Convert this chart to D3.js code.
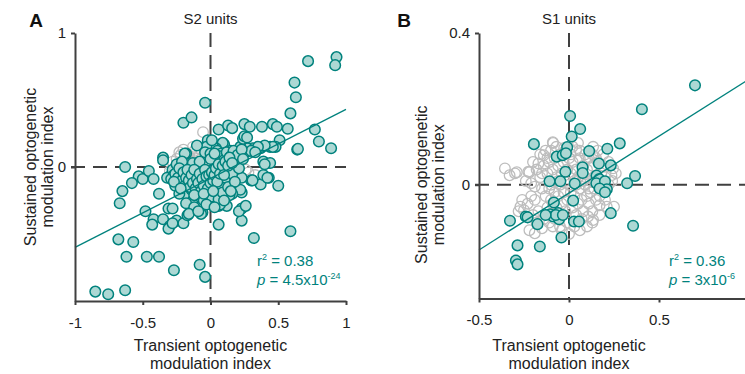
<!DOCTYPE html>
<html><head><meta charset="utf-8">
<script src="https://cdn.jsdelivr.net/npm/d3@7"></script>
<style>
html,body{margin:0;padding:0;background:#fff;}
svg{display:block;font-family:"Liberation Sans",Arial,sans-serif;}
</style></head>
<body>
<svg id="chart" width="745" height="374"></svg>
<script>
// ---------- DATA ----------
const panelLetters = ["A", "B"];
const panelTitles = ["S2 units", "S1 units"];
const xTitle = ["Transient optogenetic", "modulation index"];
const yTitle = ["Sustained optogenetic", "modulation index"];

const s2XDomain = [-1, 1];
const s2YDomain = [-1, 1];
const s2XTicks = [-1, -0.5, 0, 0.5, 1];
const s2YTicks = [0, 1];
const s2Fit = {slope: 0.515, intercept: -0.085};
const s2Stats = {r2: "0.38", pBase: "4.5x10", pExp: "-24"};

const s1XDomain = [-0.5, 1];
const s1YDomain = [-0.3, 0.4];
const s1XTicks = [-0.5, 0, 0.5];
const s1YTicks = [0, 0.4];
const s1Fit = {slope: 0.30, intercept: -0.022};
const s1Stats = {r2: "0.36", pBase: "3x10", pExp: "-6"};

// S2: unmodulated (grey open) units
const s2Unmodulated = [
 [-0.055,0.26],[-0.22,0.09],[-0.25,0.06],[-0.28,0.04],[-0.20,0.13],[-0.16,0.08],[-0.12,0.12],
 [-0.10,0.06],[-0.08,0.09],[-0.14,0.04],[-0.18,0.02],[-0.12,0.01],[-0.06,0.03],[-0.03,0.07],
 [-0.01,0.02],[0.02,0.05],[-0.09,-0.02],[-0.15,-0.04],[-0.21,-0.01],[-0.26,0.00],[-0.04,-0.05],
 [0.03,-0.01],[0.28,-0.04],[0.33,-0.06],[0.26,-0.02],[0.08,-0.09],[0.15,-0.06],[-0.13,0.15],
 [-0.07,0.13],[0.04,0.09],[-0.30,-0.03],[-0.11,-0.08],[0.10,0.02],[-0.17,0.10],[-0.23,0.11]
];
// S2: significantly modulated (teal) units
const s2Modulated = [
 [0.93,0.82],[0.92,0.76],[0.72,0.79],[0.62,0.63],[0.63,0.52],[0.59,0.40],
 [-0.04,0.48],[-0.20,0.33],[-0.14,0.37],
 [0.06,0.28],[0.13,0.31],[0.16,0.29],[0.25,0.32],[0.29,0.30],[0.38,0.30],[0.46,0.32],[0.49,0.30],[0.57,0.285],
 [0.77,0.28],[0.80,0.19],[0.89,0.14],[0.64,0.13],[0.645,0.135],
 [0.51,0.20],[0.48,0.15],[0.44,0.15],[0.46,0.15],[0.37,0.14],[0.40,0.16],[0.31,0.14],[0.35,0.15],
 [0.27,0.12],[0.27,0.14],[0.22,0.15],[0.24,0.21],[0.25,0.23],[0.27,0.22],
 [0.10,0.17],[0.09,0.18],[0.04,0.14],[0.02,0.15],[-0.02,0.20],[-0.03,0.15],[0.01,0.20],[-0.10,0.16],
 [-0.04,0.11],[0.00,0.10],[-0.18,0.10],[-0.19,0.10],[-0.35,0.07],[-0.35,0.05],
 [0.20,0.10],[0.26,0.11],[0.30,0.12],[0.33,0.11],[0.15,0.12],[0.05,0.12],[0.08,0.10],
 [-0.63,0.00],[-0.53,-0.07],[-0.50,-0.09],[-0.455,-0.03],[-0.42,-0.09],[-0.58,-0.12],[-0.65,-0.18],
 [-0.67,-0.27],[-0.38,-0.20],[-0.30,-0.07],[-0.32,-0.08],
 [-0.48,-0.33],[-0.42,-0.39],[-0.43,-0.43],[-0.35,-0.39],[-0.30,-0.44],[-0.31,-0.46],[-0.25,-0.40],
 [-0.20,-0.42],[-0.28,-0.42],[-0.31,-0.31],[-0.28,-0.31],[-0.17,-0.36],[-0.06,-0.34],
 [0.06,-0.43],[0.23,-0.40],[0.23,-0.31],[0.21,-0.33],[0.26,-0.29],[0.23,-0.19],[0.22,-0.17],
 [0.16,-0.20],[0.14,-0.21],[0.06,-0.29],[0.12,-0.29],[0.07,-0.28],[-0.07,-0.35],
 [-0.68,-0.54],[-0.57,-0.56],[-0.62,-0.67],[-0.47,-0.67],[-0.38,-0.67],[-0.27,-0.77],[-0.08,-0.73],[-0.04,-0.82],
 [-0.85,-0.93],[-0.755,-0.95],[-0.63,-0.92],
 [0.32,-0.53],[0.59,-0.48],
 [0.50,-0.14],[0.37,-0.13],[0.30,-0.10],[0.43,-0.08],[0.39,-0.06],[0.39,0.04],[0.44,0.03],[0.40,0.02],
 [0.23,-0.08],[0.31,-0.10],[0.42,-0.08],
 [-0.28,-0.02],[-0.27,-0.06],[-0.25,-0.10],[-0.24,-0.03],[-0.22,-0.13],[-0.22,-0.07],[-0.20,-0.01],
 [-0.20,-0.17],[-0.19,-0.10],[-0.18,-0.05],[-0.17,-0.21],[-0.16,-0.13],[-0.15,-0.02],[-0.15,-0.08],
 [-0.14,-0.17],[-0.13,-0.25],[-0.12,-0.11],[-0.11,-0.04],[-0.10,-0.19],[-0.10,-0.14],[-0.09,-0.07],
 [-0.08,-0.22],[-0.07,-0.01],[-0.07,-0.12],[-0.06,-0.17],[-0.05,-0.05],[-0.05,-0.25],[-0.04,-0.10],
 [-0.03,-0.20],[-0.02,-0.03],[-0.01,-0.14],[0.00,-0.08],[0.01,-0.22],[0.02,-0.02],[0.03,-0.12],
 [0.04,-0.17],[0.05,0.03],[0.05,-0.07],[0.06,-0.24],[0.07,0.08],[0.08,-0.02],[0.08,-0.13],[0.09,-0.19],
 [0.10,0.05],[0.11,-0.08],[0.12,0.11],[0.12,-0.03],[0.13,-0.15],[0.14,0.02],[0.15,0.08],[0.16,-0.05],
 [0.17,0.12],[0.18,-0.11],[0.19,0.04],[0.20,0.09],[0.21,-0.01],[0.23,0.13],[0.24,0.06],
 [-0.26,-0.14],[-0.29,-0.09],[-0.23,-0.20],[-0.18,-0.27],[-0.12,-0.30],[-0.03,-0.28],[0.03,-0.30],
 [-0.25,0.02],[-0.21,0.04],[-0.13,0.03],[-0.08,0.04],[0.00,0.06],[0.03,0.10],[-0.16,-0.35],[-0.09,-0.33],
 [0.10,-0.25],[0.15,-0.18],
 [-0.26,-0.05],[-0.24,-0.08],[-0.23,-0.01],[-0.21,-0.10],[-0.20,-0.04],[-0.19,-0.14],[-0.18,-0.08],
 [-0.17,-0.02],[-0.16,-0.10],[-0.15,-0.15],[-0.14,-0.06],[-0.13,-0.12],[-0.12,-0.02],[-0.11,-0.16],
 [-0.10,-0.09],[-0.09,-0.12],[-0.08,-0.05],[-0.07,-0.18],[-0.06,-0.09],[-0.05,-0.14],[-0.04,-0.02],
 [-0.03,-0.07],[-0.02,-0.16],[-0.01,-0.06],[0.00,-0.12],[0.01,-0.04],[0.02,-0.10],[0.03,-0.06],
 [0.04,-0.01],[0.05,-0.11],[0.06,0.02],[0.07,-0.05],[0.09,0.01],[0.10,-0.06],[0.11,0.04],[0.13,0.01],
 [0.14,0.07],[0.16,0.03],[-0.27,-0.11],[-0.22,-0.16],[-0.12,-0.21],[-0.05,-0.20],[0.02,-0.18]
];

// S1: unmodulated (grey open) units
const s1Unmodulated = [
 [-0.356,0.043],[-0.33,0.025],[-0.30,0.03],[-0.226,0.034],[-0.29,0.033],[-0.22,0.033],[-0.088,0.11],
 [-0.09,0.112],[-0.027,0.097],[0.04,0.091],[0.05,0.11],[-0.17,0.056],[-0.14,0.078],[-0.21,0.004],
 [-0.19,-0.005],[-0.27,-0.058],[-0.25,-0.067],[-0.19,-0.128],[-0.15,-0.115],[-0.09,-0.11],[0.134,-0.093],
 [0.106,-0.084],[0.17,-0.054],[0.21,-0.058],[0.25,-0.058],[0.236,0.025],[0.245,0.043],[0.134,0.10],[0.10,0.07],
 [-0.18,0.04],[-0.16,0.02],[-0.15,-0.01],[-0.14,0.05],[-0.13,-0.03],[-0.12,0.03],[-0.12,-0.06],[-0.11,0.06],
 [-0.10,0.00],[-0.10,-0.04],[-0.09,0.04],[-0.08,-0.02],[-0.08,0.07],[-0.07,-0.06],[-0.07,0.02],[-0.06,0.05],
 [-0.06,-0.03],[-0.05,0.00],[-0.05,0.08],[-0.04,-0.05],[-0.04,0.03],[-0.03,0.06],[-0.03,-0.02],[-0.02,0.01],
 [-0.02,-0.07],[-0.01,0.04],[-0.01,-0.04],[0.00,0.07],[0.00,0.00],[0.01,-0.02],[0.01,0.03],[0.02,0.06],
 [0.02,-0.06],[0.03,0.01],[0.03,-0.03],[0.04,0.04],[0.04,-0.08],[0.05,0.02],[0.05,-0.05],[0.06,0.07],
 [0.06,-0.01],[0.07,0.03],[0.07,-0.04],[0.08,0.05],[0.08,-0.07],[0.09,0.00],[0.09,0.02],[0.10,-0.03],
 [0.10,0.04],[0.11,0.07],[0.11,-0.05],[0.12,0.01],[0.12,-0.02],[0.13,0.05],[0.13,-0.07],[0.14,0.02],
 [0.15,-0.04],[0.16,0.06],[0.17,-0.03],[0.18,0.03],[0.19,0.05],[0.20,-0.04],[0.22,0.06],[0.22,0.00],
 [-0.20,0.06],[-0.19,-0.04],[-0.17,-0.07],[-0.21,-0.03],[-0.23,-0.05],[-0.24,0.01],[-0.16,0.08],[-0.13,0.09],
 [-0.10,0.09],[-0.07,0.10],[-0.02,0.09],[0.02,0.10],[0.06,0.09],[0.09,0.08],[0.13,0.08],[0.16,0.09],
 [0.19,0.08],[-0.14,-0.09],[-0.11,-0.10],[-0.08,-0.09],[-0.05,-0.11],[-0.01,-0.10],[0.03,-0.11],[0.07,-0.09],
 [0.10,-0.11],[0.13,-0.10],[0.17,-0.08],[-0.18,-0.10],[-0.20,-0.08],[-0.26,-0.04],[-0.28,-0.07],[-0.22,-0.12],
 [0.00,-0.13],[-0.04,-0.12],[0.06,-0.12],[0.20,0.02],[0.24,0.01],[0.15,0.07],[-0.11,-0.01],[-0.06,0.01],
 [0.04,0.00],[0.08,0.01],[-0.09,-0.05],[0.11,-0.01],[0.14,-0.01],[-0.15,0.03],[-0.12,0.07],[0.01,0.08],[0.26,0.03]
];
// S1: significantly modulated (teal) units
const s1Modulated = [
 [0.70,0.262],[0.405,0.199],[0.006,0.181],[0.062,0.147],[0.015,0.127],[-0.01,0.099],[-0.195,0.107],
 [0.112,0.089],[0.213,0.095],[0.282,0.109],[-0.068,0.074],[-0.035,0.078],[-0.017,0.083],[0.166,0.056],
 [0.232,0.051],[0.075,0.046],[0.076,0.031],[-0.02,0.034],[-0.108,0.009],[-0.048,0.009],[0.032,0.003],
 [0.153,0.024],[0.168,0.015],[0.152,0.004],[0.20,0.009],[0.21,-0.012],[0.323,0.004],[0.367,0.023],
 [0.023,-0.042],[-0.084,-0.047],[-0.106,-0.078],[-0.088,-0.084],[-0.06,-0.075],[-0.055,-0.091],
 [-0.073,-0.08],[-0.034,-0.08],[0.028,-0.097],[0.055,-0.097],[0.232,-0.075],[0.356,-0.108],[-0.042,-0.139],
 [-0.24,-0.084],[-0.23,-0.086],[-0.175,-0.104],[-0.328,-0.095],[-0.286,-0.16],[-0.162,-0.163],
 [-0.295,-0.20],[-0.286,-0.21],[0.17,-0.01],[0.20,-0.02],[-0.13,-0.08]
];

// ---------- STYLE ----------
const TEAL = "#00827d";
const TEAL_FILL = "#acd8d4";
const GREY = "#bdbdbd";
const AXIS = "#404040";
const FONT = '"Liberation Sans", Arial, sans-serif';

const svg = d3.select("#chart");
svg.append("rect").attr("width",745).attr("height",374).attr("fill","#fff");

const panels = [
  {letter: panelLetters[0], title: panelTitles[0], xd: s2XDomain, yd: s2YDomain, xr: [75,346], yr: [301,33],
   xt: s2XTicks, yt: s2YTicks, fit: s2Fit, stats: s2Stats, grey: s2Unmodulated, teal: s2Modulated,
   letterX: 36, yLabX: 36, statX: 257},
  {letter: panelLetters[1], title: panelTitles[1], xd: s1XDomain, yd: s1YDomain, xr: [479,749], yr: [298.5,33],
   xt: s1XTicks, yt: s1YTicks, fit: s1Fit, stats: s1Stats, grey: s1Unmodulated, teal: s1Modulated,
   letterX: 404, yLabX: 427, statX: 669}
];

const fmt = d => (d === 0 ? "0" : String(d));

panels.forEach(p => {
  const x = d3.scaleLinear().domain(p.xd).range(p.xr);
  const y = d3.scaleLinear().domain(p.yd).range(p.yr);
  const g = svg.append("g");

  // dashed zero lines
  g.append("line").attr("x1", x(p.xd[0]) - 4).attr("x2", x(p.xd[1]))
    .attr("y1", y(0)).attr("y2", y(0))
    .attr("stroke", AXIS).attr("stroke-width", 2).attr("stroke-dasharray", "14,8");
  g.append("line").attr("x1", x(0)).attr("x2", x(0))
    .attr("y1", y(p.yd[1])).attr("y2", y(p.yd[0]))
    .attr("stroke", AXIS).attr("stroke-width", 2).attr("stroke-dasharray", "14,8");

  // grey points
  g.append("g").selectAll("circle").data(p.grey).join("circle")
    .attr("cx", d => x(d[0])).attr("cy", d => y(d[1])).attr("r", 5.3)
    .attr("fill", "none").attr("stroke", GREY).attr("stroke-width", 1.3);

  // teal points
  g.append("g").selectAll("circle").data(p.teal).join("circle")
    .attr("cx", d => x(d[0])).attr("cy", d => y(d[1])).attr("r", 5.3)
    .attr("fill", TEAL_FILL).attr("stroke", TEAL).attr("stroke-width", 1.5);

  // regression line
  const fx = [p.xd[0], p.xd[1]];
  g.append("line")
    .attr("x1", x(fx[0])).attr("y1", y(p.fit.slope * fx[0] + p.fit.intercept))
    .attr("x2", x(fx[1])).attr("y2", y(p.fit.slope * fx[1] + p.fit.intercept))
    .attr("stroke", TEAL).attr("stroke-width", 1.3);

  // axes
  const xAxis = d3.axisBottom(x).tickValues(p.xt).tickFormat(fmt).tickSize(4).tickSizeOuter(0);
  const xa = g.append("g").attr("transform", `translate(0,${p.yr[0]})`).call(xAxis);
  const yAxis = d3.axisLeft(y).tickValues(p.yt).tickFormat(fmt).tickSize(4).tickSizeOuter(0);
  const ya = g.append("g").attr("transform", `translate(${p.xr[0]},0)`).call(yAxis);
  [xa, ya].forEach(a => {
    a.select(".domain").attr("stroke", AXIS).attr("stroke-width", 2);
    a.selectAll(".tick line").attr("stroke", AXIS).attr("stroke-width", 2);
    a.selectAll(".tick text").attr("fill", "#222").attr("font-size", 15).attr("font-family", FONT);
  });
  xa.selectAll(".tick text").attr("dy", "1.3em");
  ya.selectAll(".tick text").attr("x", -9);

  // panel letter and title
  svg.append("text").attr("x", p.letterX).attr("y", 27).attr("text-anchor", "middle")
    .attr("font-size", 19).attr("font-weight", "bold").attr("fill", "#111").text(p.letter);
  svg.append("text").attr("x", x(0)).attr("y", 24).attr("text-anchor", "middle")
    .attr("font-size", 15).attr("fill", "#222").text(p.title);

  // axis titles
  const xc = x(0);
  svg.append("text").attr("x", xc).attr("y", 351).attr("text-anchor", "middle")
    .attr("font-size", 16).attr("fill", "#222").text(xTitle[0]);
  svg.append("text").attr("x", xc).attr("y", 369).attr("text-anchor", "middle")
    .attr("font-size", 16).attr("fill", "#222").text(xTitle[1]);
  const yc = y(0);
  [0, 1].forEach(i => {
    svg.append("text")
      .attr("transform", `translate(${p.yLabX + i * 17},${yc}) rotate(-90)`)
      .attr("text-anchor", "middle").attr("font-size", 16).attr("fill", "#222").text(yTitle[i]);
  });

  // stats
  const t1 = svg.append("text").attr("x", p.statX).attr("y", 266).attr("font-size", 15).attr("fill", TEAL);
  t1.append("tspan").text("r");
  t1.append("tspan").attr("font-size", 9).attr("dy", -6).text("2");
  t1.append("tspan").attr("dy", 6).text(" = " + p.stats.r2);
  const t2 = svg.append("text").attr("x", p.statX).attr("y", 285).attr("font-size", 15).attr("fill", TEAL);
  t2.append("tspan").attr("font-style", "italic").text("p");
  t2.append("tspan").text(" = " + p.stats.pBase);
  t2.append("tspan").attr("font-size", 9).attr("dy", -6).text(p.stats.pExp);
});
</script>
</body></html>
